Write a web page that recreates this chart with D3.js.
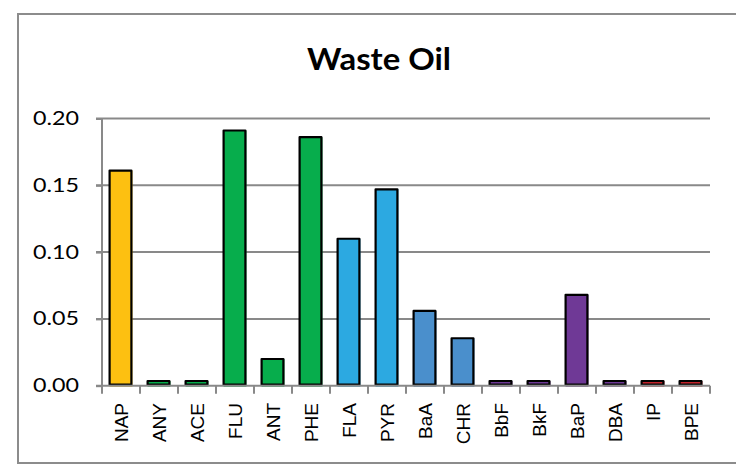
<!DOCTYPE html>
<html>
<head>
<meta charset="utf-8">
<script src="https://cdn.jsdelivr.net/npm/d3@7"></script>
<style>
  body { margin: 0; background: #fff; }
  svg { display: block; }
</style>
</head>
<body>
<div class="chart"></div>
<script>
// chart data
var categories = ["NAP","ANY","ACE","FLU","ANT","PHE","FLA","PYR","BaA","CHR","BbF","BkF","BaP","DBA","IP","BPE"];
var values = [0.161, 0.0035, 0.0035, 0.191, 0.020, 0.186, 0.110, 0.147, 0.056, 0.0355, 0.0035, 0.0035, 0.068, 0.0035, 0.0035, 0.0035];
var groups = ["g1","g2","g2","g2","g2","g2","g3","g3","g4","g4","g5","g5","g5","g5","g6","g6"];
var yTicks = [0, 0.05, 0.10, 0.15, 0.20];
var title = "Waste Oil";

var w = 736, h = 466;
// plot area edges (note: "top" is taken by window.top)
var pLeft = 102, pRight = 710, pTop = 118.5, pBottom = 385.7;

var svg = d3.select(".chart").append("svg")
    .attr("width", w)
    .attr("height", h);

// outer frame
svg.append("rect")
    .attr("x", 18).attr("y", 14)
    .attr("width", 740).attr("height", 449)
    .attr("fill", "none")
    .attr("stroke", "#8c8c8c")
    .attr("stroke-width", 2);

svg.append("text")
    .attr("x", 379).attr("y", 70)
    .attr("text-anchor", "middle")
    .attr("font-family", "Lato")
    .attr("font-weight", "bold")
    .attr("font-size", 30)
    .attr("textLength", 144)
    .attr("lengthAdjust", "spacingAndGlyphs")
    .attr("fill", "#000")
    .text(title);

var xScale = d3.scaleBand()
    .domain(categories)
    .range([pLeft, pRight])
    .paddingInner(0.4)
    .paddingOuter(0.2);

var yScale = d3.scaleLinear()
    .domain([0, 0.20])
    .range([pBottom, pTop]);

var color = d3.scaleOrdinal()
    .domain(["g1","g2","g3","g4","g5","g6"])
    .range(["#fdc011", "#07ad4c", "#2ca9e1", "#4a8fcc", "#6f3996", "#c3242c"]);

// gridlines
svg.append("g")
    .selectAll("line")
    .data(yTicks.filter(function(d){ return d > 0; }))
    .enter()
    .append("line")
    .attr("x1", pLeft - 6)
    .attr("x2", pRight)
    .attr("y1", function(d){ return yScale(d); })
    .attr("y2", function(d){ return yScale(d); })
    .attr("stroke", "#898989")
    .attr("stroke-width", 2);

// y axis
var yAxis = svg.append("g")
    .attr("transform", "translate(" + pLeft + ",0)")
    .call(d3.axisLeft(yScale).tickValues(yTicks).tickSize(6).tickPadding(17)
        .tickFormat(d3.format(".2f")));
yAxis.select(".domain").attr("stroke", "#898989").attr("stroke-width", 2)
    .attr("d", "M0," + pTop + "V" + (pBottom + 1));
yAxis.selectAll(".tick line").attr("stroke", "#898989").attr("stroke-width", 2);
yAxis.selectAll(".tick text")
    .attr("font-family", "Lato")
    .attr("font-size", 18.5)
    .attr("textLength", 46)
    .attr("lengthAdjust", "spacingAndGlyphs")
    .attr("fill", "#000");

// bars
var bars = svg.append("g").selectAll("g")
    .data(categories)
    .enter()
    .append("g");

bars.append("rect")
    .attr("x", function(d){ return xScale(d); })
    .attr("y", function(d, i){ return yScale(values[i]); })
    .attr("width", xScale.bandwidth())
    .attr("height", function(d, i){ return pBottom - yScale(values[i]) + 1; })
    .attr("fill", function(d, i){ return color(groups[i]); });

bars.append("rect")
    .attr("x", function(d){ return xScale(d); })
    .attr("y", function(d, i){ return yScale(values[i]); })
    .attr("width", xScale.bandwidth() - 1)
    .attr("height", function(d, i){ return pBottom - yScale(values[i]) - 1; })
    .attr("fill", "none")
    .attr("stroke", "#000")
    .attr("stroke-width", 2.2)
    .attr("stroke-linejoin", "round");

// x axis line + ticks at band edges
var edges = categories.map(function(d){ return xScale(d) - xScale.step() * xScale.paddingInner() / 2; });
edges.push(pRight);

svg.append("line")
    .attr("x1", pLeft - 6).attr("x2", pRight)
    .attr("y1", pBottom).attr("y2", pBottom)
    .attr("stroke", "#898989")
    .attr("stroke-width", 2);

svg.append("g").selectAll("line")
    .data(edges)
    .enter()
    .append("line")
    .attr("x1", function(d){ return d; })
    .attr("x2", function(d){ return d; })
    .attr("y1", pBottom)
    .attr("y2", pBottom + 8)
    .attr("stroke", "#898989")
    .attr("stroke-width", 2);

// x labels
svg.append("g").selectAll("text")
    .data(categories)
    .enter()
    .append("text")
    .attr("transform", function(d){
        return "translate(" + (xScale(d) + xScale.bandwidth() / 2) + "," + 403 + ") rotate(-90)";
    })
    .attr("dy", "0.36em")
    .attr("text-anchor", "end")
    .attr("font-family", "Liberation Sans")
    .attr("font-size", 19)
    .attr("fill", "#000")
    .text(function(d){ return d; });
</script>
</body>
</html>
